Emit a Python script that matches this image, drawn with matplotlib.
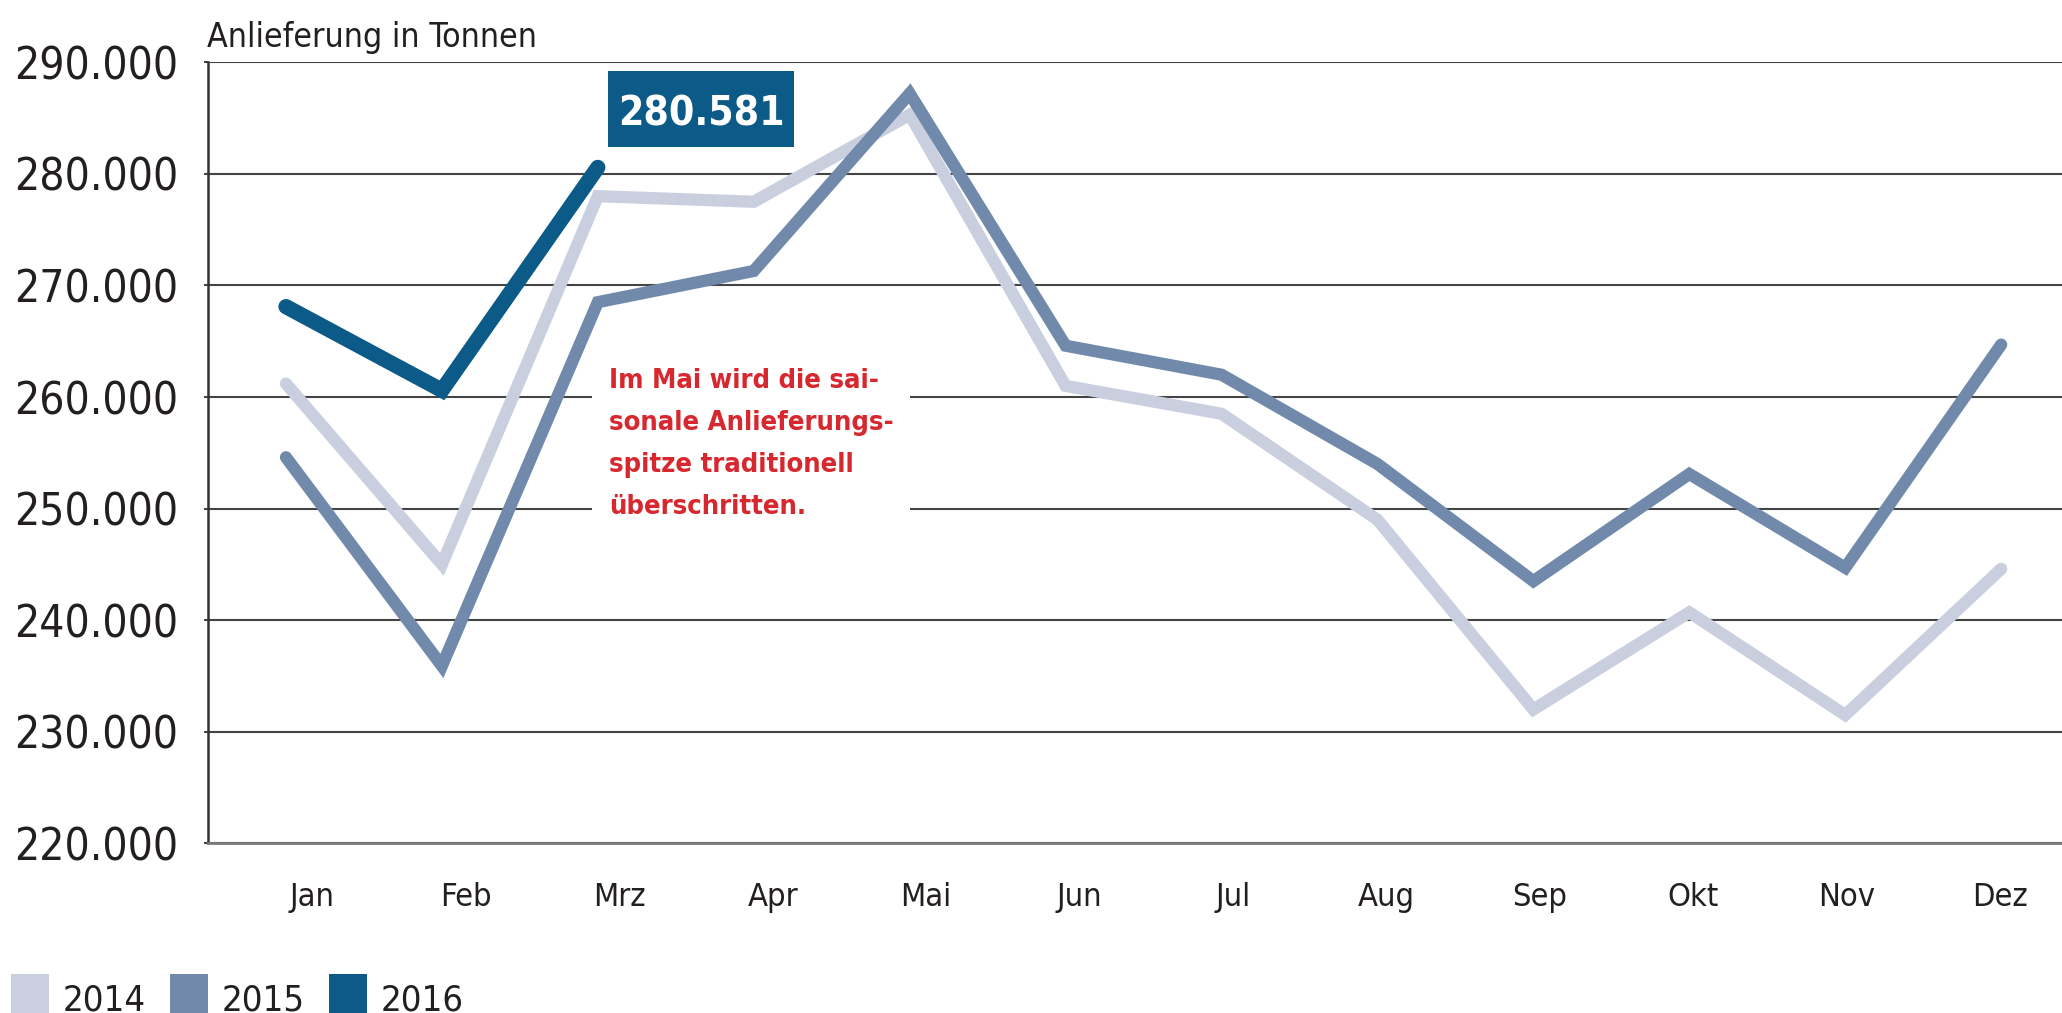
import numpy as np
import matplotlib
matplotlib.use("Agg")
import matplotlib.pyplot as plt
import matplotlib.font_manager as fm
from matplotlib.patches import Rectangle
from matplotlib.ticker import FuncFormatter

months = ['Jan', 'Feb', 'Mrz', 'Apr', 'Mai', 'Jun', 'Jul', 'Aug', 'Sep', 'Okt', 'Nov', 'Dez']
years = ['2014', '2015', '2016']
v2014 = [261200, 245000, 278000, 277500, 285300, 261000, 258500, 249000, 232000, 240700, 231500, 244600]
v2015 = [254600, 235900, 268500, 271300, 287200, 264600, 262000, 254000, 243500, 253100, 244700, 264700]
v2016 = [268100, 260600, 280581]

c14 = '#c9cfdf'
c15 = '#7189ab'
c16 = '#0b5a87'
txt = '#231f20'
red = '#d7282f'


def is_bold(f):
    w = f.weight
    if isinstance(w, str):
        return w.lower() in ('bold', 'heavy', 'black', 'demibold', 'semibold', 'extra bold')
    return w >= 600


def is_narrow(f):
    if 'Narrow' in f.name or 'Condensed' in f.name:
        return True
    s = f.stretch
    if isinstance(s, str):
        return 'condensed' in s
    return s < 500


def pick_font(bold):
    # look for a narrow sans, fall back to Liberation Sans
    order = ['Liberation Sans Narrow', 'DejaVu Sans', 'Roboto', 'Noto Sans', 'Open Sans']
    good = [f for f in fm.fontManager.ttflist
            if is_narrow(f) and is_bold(f) == bold and 'Mono' not in f.name and 'Serif' not in f.name
            and 'italic' not in f.style.lower() and 'oblique' not in f.style.lower()
            and 'Italic' not in f.fname and 'Oblique' not in f.fname]
    good.sort(key=lambda f: order.index(f.name) if f.name in order else 99)
    if good:
        return fm.FontProperties(fname=good[0].fname)
    return fm.FontProperties(family='Liberation Sans', weight='bold' if bold else 'normal')


fp_reg = pick_font(False)
fp_bold = pick_font(True)


def fnt(fp, size):
    p = fp.copy()
    p.set_size(size)
    return p


W, H = 2062, 1013
fig = plt.figure(figsize=(W / 100, H / 100), dpi=100)
renderer = fig.canvas.get_renderer()


def fit(s, fp, width_px):
    # font size that makes s about width_px wide
    t = fig.text(0, 0, s, fontproperties=fnt(fp, 20))
    w = t.get_window_extent(renderer).width
    t.remove()
    return 20 * width_px / w


ax = fig.add_axes([208 / W, 1 - 843.3 / H, 1 - 208 / W, (843.3 - 62.3) / H])

x = np.arange(len(months))
ax.plot(x, v2014, color=c14, lw=8.8, solid_joinstyle='miter', solid_capstyle='round', zorder=3)
ax.plot(x, v2015, color=c15, lw=8.8, solid_joinstyle='miter', solid_capstyle='round', zorder=4)
ax.plot(x[:len(v2016)], v2016, color=c16, lw=11, solid_joinstyle='miter', solid_capstyle='round', zorder=5)

ax.set_xlim(-0.50, 11.39)
ax.set_ylim(220000, 290000)
ax.set_yticks(np.arange(220000, 290001, 10000))
ax.yaxis.set_major_formatter(FuncFormatter(lambda v, p: f"{v:,.0f}".replace(",", ".")))
ax.set_xticks(np.linspace(0.17, 10.99, 12))
ax.set_xticklabels(months)

ysize = fit("290.000", fp_reg, 164)
xsize = fit("Nov", fp_reg, 57)
ax.grid(axis='y', color='#444444', lw=1.5)
ax.set_axisbelow(True)
ax.tick_params(axis='y', length=3, width=1.5, color='#444444', labelcolor=txt, pad=18.5)
ax.tick_params(axis='x', length=0, labelcolor=txt, pad=28)
for lab in ax.get_yticklabels():
    lab.set_fontproperties(fnt(fp_reg, ysize))
for lab in ax.get_xticklabels():
    lab.set_fontproperties(fnt(fp_reg, xsize))
for s in ['top', 'right']:
    ax.spines[s].set_visible(False)
ax.spines['left'].set_color('#333333')
ax.spines['left'].set_linewidth(1.8)
ax.spines['bottom'].set_color('#7a7a7a')
ax.spines['bottom'].set_linewidth(2)

# value label for the latest month (box + text)
lbl = f"{v2016[-1]:,.0f}".replace(",", ".")
fig.patches.append(Rectangle((608 / W, 1 - 147 / H), 186 / W, 76 / H, transform=fig.transFigure,
                             facecolor=c16, edgecolor='none', zorder=6))
fig.text(701 / W, 1 - 125 / H, lbl, color='white', fontproperties=fnt(fp_bold, fit(lbl, fp_bold, 166)),
         ha='center', va='baseline', zorder=7)

# annotation
asize = fit("sonale Anlieferungs-", fp_bold, 286)
ax.text(2.07, 262600, "Im Mai wird die sai-\nsonale Anlieferungs-\nspitze traditionell\nüberschritten.",
        color=red, fontproperties=fnt(fp_bold, asize), ha='left', va='top', linespacing=1.8, zorder=1,
        bbox=dict(boxstyle='square,pad=0.6', facecolor='white', edgecolor='none'))

fig.text(207 / W, 1 - 46.7 / H, "Anlieferung in Tonnen", fontproperties=fnt(fp_reg, fit("Anlieferung in Tonnen", fp_reg, 330)),
         color=txt, ha='left', va='baseline')

# legend
lsize = fit("2014", fp_reg, 83)
sq_x = [11, 170, 329]
for i, (yr, col) in enumerate(zip(years, [c14, c15, c16])):
    fig.patches.append(Rectangle((sq_x[i] / W, 1 - 1013 / H), 38 / W, 39 / H,
                                 transform=fig.transFigure, facecolor=col, edgecolor='none'))
    fig.text((sq_x[i] + 52) / W, 1 - 1010 / H, yr, fontproperties=fnt(fp_reg, lsize),
             color=txt, ha='left', va='baseline')

fig.savefig('out.png', dpi=100)
